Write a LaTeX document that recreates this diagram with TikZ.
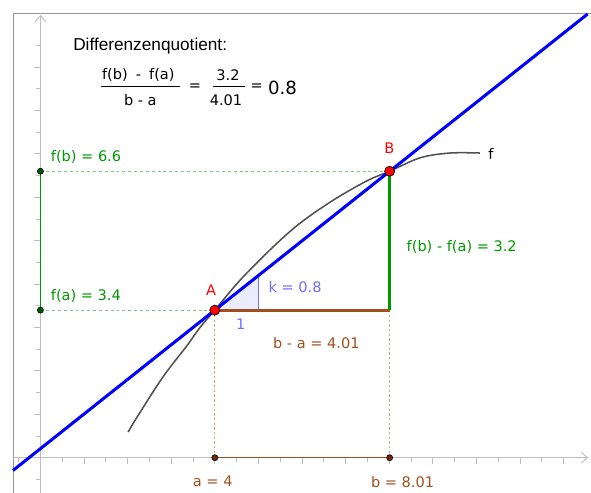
\documentclass[tikz,border=0pt]{standalone}
\usepackage{fontspec}
\setmainfont{Liberation Sans}
\newfontfamily\labelfont{DejaVu Sans}
\usetikzlibrary{arrows.meta,calc}
\definecolor{ggreen}{RGB}{0,153,0}
\definecolor{lightgreen}{RGB}{120,205,120}
\definecolor{darkgreen}{RGB}{0,90,0}
\definecolor{gbrown}{RGB}{160,80,30}
\definecolor{lightbrown}{RGB}{210,160,130}
\definecolor{darkbrown}{RGB}{110,40,10}
\definecolor{lavender}{RGB}{110,110,255}
\definecolor{slopefill}{RGB}{236,236,255}
\definecolor{axisgray}{RGB}{190,190,190}
\definecolor{framegray}{RGB}{150,150,150}
\definecolor{curvegray}{RGB}{80,80,80}
\tikzset{
  axis/.style={axisgray,line width=0.8pt},
  helper/.style={lightgreen,line width=0.8pt,dash pattern=on 2.5pt off 2.5pt},
  dropline/.style={lightbrown,line width=0.8pt,dash pattern=on 2pt off 2pt},
  lbl/.style={inner sep=0pt,font=\labelfont\fontsize{12.4}{15}\selectfont}
}
\begin{document}
\begin{tikzpicture}[x=1.308cm,y=1.302cm]
\useasboundingbox (-0.927,-0.813) rectangle (12.628,10.546);
\draw[framegray,line width=0.9pt] (-0.628,-0.813) -- (-0.628,10.224) -- (12.628,10.224);
\draw[axis,-{Straight Barb[length=5pt,width=9pt]}] (-0.628,0) -- (12.56,0);
\draw[axis,-{Straight Barb[length=5pt,width=9pt]}] (0,-0.813) -- (0,10.2);
\foreach \i in {1,...,12} \draw[axis] (\i,0) -- (\i,-0.14);
\foreach \i in {-0.5,0.5,...,11.5} \draw[axis] (\i,0) -- (\i,-0.09);
\foreach \i in {1,...,9} \draw[axis] (0,\i) -- (-0.14,\i);
\foreach \i in {-0.5,0.5,...,9.5} \draw[axis] (0,\i) -- (-0.09,\i);

\coordinate (A) at (4,3.4);
\coordinate (B) at (8.01,6.6);
\coordinate (C) at (8.01,3.4);
\coordinate (Fa) at (0,3.4);
\coordinate (Fb) at (0,6.6);
\coordinate (a) at (4,0);
\coordinate (b) at (8.01,0);
\coordinate (S1) at (5,3.4);
\coordinate (S2) at (5,4.2);

\draw[helper] (Fb) -- (B);
\draw[helper] (Fa) -- (A);
\draw[dropline] (A) -- (a);
\draw[dropline] (C) -- (b);
\fill[slopefill] (A) -- (S1) -- (S2) -- cycle;
\draw[lavender,line width=0.9pt] (S1) -- (S2);

\draw[curvegray,line width=1.3pt] plot[smooth,tension=0.55] coordinates {
  (2.01,0.59) (2.22,0.94) (2.81,1.86) (3.36,2.58) (3.66,3.0) (4,3.4)
  (4.58,4.09) (5.33,4.85) (5.95,5.40) (6.71,5.93) (7.49,6.38) (8.01,6.6)
  (8.71,6.91) (9.39,7.02) (10.08,7.02)};

\draw[blue,line width=2.6pt] ($(A)!-1.1541!(B)$) -- ($(A)!2.1322!(B)$);

\draw[gbrown,line width=2.4pt] (A) -- (C);
\draw[ggreen,line width=2.4pt] (B) -- (C);
\draw[ggreen,line width=1.3pt] (Fa) -- (Fb);
\draw[gbrown,line width=1.3pt] (a) -- (b);

\draw[fill=darkgreen,line width=0.5pt] (Fa) circle (2.6pt);
\draw[fill=darkgreen,line width=0.5pt] (Fb) circle (2.6pt);
\draw[fill=darkbrown,line width=0.5pt] (a) circle (2.6pt);
\draw[fill=darkbrown,line width=0.5pt] (b) circle (2.6pt);
\draw[fill=red,line width=0.6pt] (A) circle (4.3pt);
\draw[fill=red,line width=0.6pt] (B) circle (4.3pt);

\node[inner sep=0pt,anchor=west,font=\fontsize{14.7}{17}\selectfont] (title) at (0.748,9.486) {Differenzenquotient:};
\node[lbl] (num) at (2.245,8.818) {f(b)\hspace{3pt} - \hspace{3pt}f(a)};
\node[lbl] (den) at (2.291,8.242) {b - a};
\draw[line width=0.8pt] (1.385,8.547) -- (3.202,8.547);
\node[lbl] (eq1) at (3.546,8.541) {=};
\node[lbl] (num2) at (4.303,8.802) {3.2};
\node[lbl] (den2) at (4.257,8.242) {4.01};
\draw[line width=0.8pt] (3.966,8.547) -- (4.693,8.547);
\node[lbl] (eq2) at (4.961,8.541) {=};
\node[lbl,font=\labelfont\fontsize{15.5}{18}\selectfont] (res) at (5.553,8.511) {0.8};

\node[lbl,text=red] (labA) at (3.915,3.86) {A};
\node[lbl,text=red] (labB) at (8.002,7.129) {B};
\node[lbl] (labf) at (10.335,6.998) {f};
\node[lbl,text=lavender,anchor=west] (labk) at (5.23,3.926) {k = 0.8};
\node[lbl,text=lavender] (labone) at (4.594,3.081) {1};
\node[lbl,text=gbrown] (labba) at (6.328,2.65) {b - a = 4.01};
\node[lbl,text=ggreen] (labdiff) at (9.663,4.862) {f(b) - f(a) = 3.2};
\node[lbl,text=ggreen,anchor=west] (labfb) at (0.236,6.936) {f(b) = 6.6};
\node[lbl,text=ggreen,anchor=west] (labfa) at (0.236,3.726) {f(a) = 3.4};
\node[lbl,text=gbrown] (laba) at (3.952,-0.553) {a = 4};
\node[lbl,text=gbrown] (labb) at (8.305,-0.553) {b = 8.01};
\end{tikzpicture}
\end{document}
